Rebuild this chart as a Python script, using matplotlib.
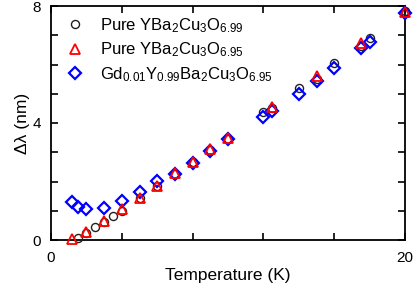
import matplotlib
matplotlib.use("Agg")
import matplotlib.pyplot as plt
from matplotlib.lines import Line2D

plt.rcParams['font.family'] = ['Liberation Sans', 'DejaVu Sans']
plt.rcParams['mathtext.fontset'] = 'custom'
plt.rcParams['mathtext.rm'] = 'Liberation Sans'
plt.rcParams['mathtext.it'] = 'Liberation Sans:italic'
plt.rcParams['mathtext.bf'] = 'Liberation Sans:bold'

# Pure YBa2Cu3O6.99 (circles)
T_c = [1.5, 2, 2.5, 3, 3.5, 4, 5, 6, 7, 8, 9, 10, 12, 12.5, 14, 15, 16, 17.5, 18, 20]
L_c = [0.07, 0.25, 0.43, 0.63, 0.82, 1.00, 1.42, 1.84, 2.27, 2.66, 3.07, 3.47,
       4.38, 4.50, 5.19, 5.52, 6.04, 6.63, 6.90, 7.82]
# Pure YBa2Cu3O6.95 (triangles)
T_t = [1.2, 2, 3, 4, 5, 6, 7, 8, 9, 10, 12.5, 15, 17.5, 20]
L_t = [0.02, 0.28, 0.66, 1.06, 1.44, 1.86, 2.30, 2.68, 3.10, 3.50, 4.56, 5.61, 6.72, 7.80]
# Gd0.01Y0.99Ba2Cu3O6.95 (diamonds)
T_d = [1.2, 1.5, 2, 3, 4, 5, 6, 7, 8, 9, 10, 12, 12.5, 14, 15, 16, 17.5, 18, 20]
L_d = [1.29, 1.14, 1.05, 1.08, 1.34, 1.64, 2.02, 2.25, 2.63, 3.05, 3.45, 4.22, 4.42,
       5.00, 5.45, 5.89, 6.55, 6.78, 7.76]

labels = [r'Pure YBa$_{\mathrm{2}}$Cu$_{\mathrm{3}}$O$_{\mathrm{6.99}}$',
          r'Pure YBa$_{\mathrm{2}}$Cu$_{\mathrm{3}}$O$_{\mathrm{6.95}}$',
          r'Gd$_{\mathrm{0.01}}$Y$_{\mathrm{0.99}}$Ba$_{\mathrm{2}}$Cu$_{\mathrm{3}}$O$_{\mathrm{6.95}}$']

fig = plt.figure(figsize=(4.15, 2.85), dpi=100)
ax = fig.add_axes([51/415, 1 - 240/285, 354/415, 234/285])

c_style = dict(ls='none', marker='o', ms=5.8, mfc='none', mec='#222222', mew=1.0)
t_style = dict(ls='none', marker='^', ms=6.5, mfc='none', mec='#ff0000', mew=1.3)
d_style = dict(ls='none', marker='D', ms=5.8, mfc='none', mec='#0000ff', mew=1.6)

ax.plot(T_c, L_c, clip_on=False, zorder=3, **c_style)
ax.plot(T_d, L_d, clip_on=False, zorder=4, **d_style)
ax.plot(T_t, L_t, clip_on=False, zorder=5, **t_style)

ax.set_xlim(0, 20)
ax.set_ylim(0, 8)
ax.set_xticks([0, 4, 8, 12, 16, 20])
ax.set_xticklabels(['0', '', '', '', '', '20'])
ax.set_yticks(range(0, 9))
ax.set_yticklabels(['0', '', '', '', '4', '', '', '', '8'])
ax.tick_params(direction='in', length=5, width=1.2, top=True, right=True,
               labelsize=11)
ax.tick_params(axis='x', pad=8)
ax.tick_params(axis='y', pad=7)
for s in ax.spines.values():
    s.set_linewidth(1.3)

ax.set_xlabel('Temperature (K)', fontsize=12.5, labelpad=2)
ax.set_ylabel('Δλ (nm)', fontsize=12.5, labelpad=2)

handles = [Line2D([], [], **c_style), Line2D([], [], **t_style), Line2D([], [], **d_style)]
ax.legend(handles, labels, loc='upper left', frameon=False, fontsize=12,
          handlelength=1.0, handletextpad=1.0, borderaxespad=0.2,
          labelspacing=0.35, bbox_to_anchor=(0.015, 1.0))

fig.savefig('out.png', dpi=100)
